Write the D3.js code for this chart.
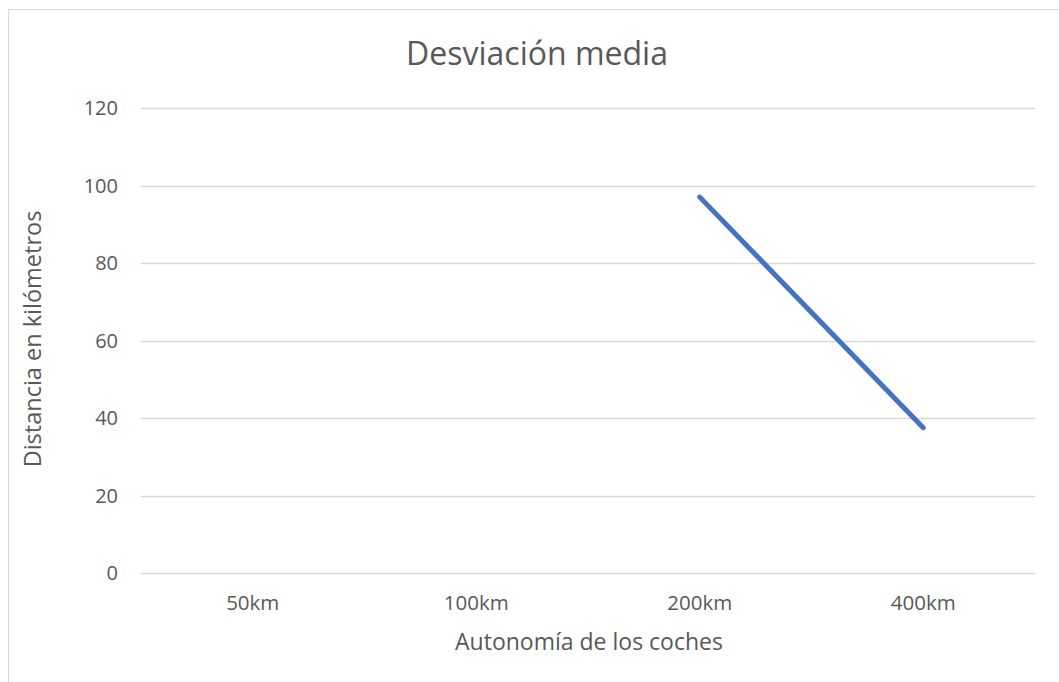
<!DOCTYPE html>
<html><head><meta charset="utf-8">
<script src="https://cdn.jsdelivr.net/npm/d3@7"></script>
<style>body{margin:0;background:#fff}svg{display:block}text{font-family:'Open Sans',sans-serif;fill:#595959}</style>
</head><body><svg id="c" width="1059" height="682"></svg>
<script>
const categories = ["50km","100km","200km","400km"];
const values = [null, null, 97, 37.5];
const yTicks = [0,20,40,60,80,100,120];
const title = "Desviación media";
const xTitle = "Autonomía de los coches";
const yTitle = "Distancia en kilómetros";

const svg = d3.select("#c");
const W=1059,H=682;
svg.append("rect").attr("x",8.5).attr("y",9.5).attr("width",W).attr("height",H).attr("fill","none").attr("stroke","#d9d9d9");
const x = d3.scaleBand().domain(categories).range([141,1035]);
const y = d3.scaleLinear().domain([0,120]).range([573,108]);

svg.append("g").selectAll("line").data(yTicks).join("line")
 .attr("x1",141).attr("x2",1035).attr("y1",d=>Math.round(y(d))+0.5).attr("y2",d=>Math.round(y(d))+0.5)
 .attr("stroke","#d9d9d9").attr("stroke-width",1.3);
svg.append("g").selectAll("text").data(yTicks).join("text")
 .attr("x",118).attr("y",d=>y(d)).attr("dy","0.35em").attr("text-anchor","end").attr("font-size",20).text(d=>d);
svg.append("g").selectAll("text").data(categories).join("text")
 .attr("x",d=>x(d)+x.bandwidth()/2).attr("y",603).attr("dy","0.35em").attr("text-anchor","middle").attr("font-size",20.5).text(d=>d);

const line = d3.line().defined(d=>d.v!=null).x(d=>x(d.c)+x.bandwidth()/2).y(d=>y(d.v));
svg.append("path").datum(categories.map((c,i)=>({c,v:values[i]}))).attr("d",line)
 .attr("fill","none").attr("stroke","#4472C4").attr("stroke-width",5).attr("stroke-linecap","round");

svg.append("text").attr("x",537).attr("y",54).attr("dy","0.35em").attr("text-anchor","middle").attr("font-size",32).text(title);
svg.append("text").attr("x",589).attr("y",642).attr("dy","0.35em").attr("text-anchor","middle").attr("font-size",23).text(xTitle);
svg.append("text").attr("transform","translate(33,339) rotate(-90)").attr("dy","0.35em").attr("text-anchor","middle").attr("font-size",23.5).text(yTitle);
</script></body></html>
